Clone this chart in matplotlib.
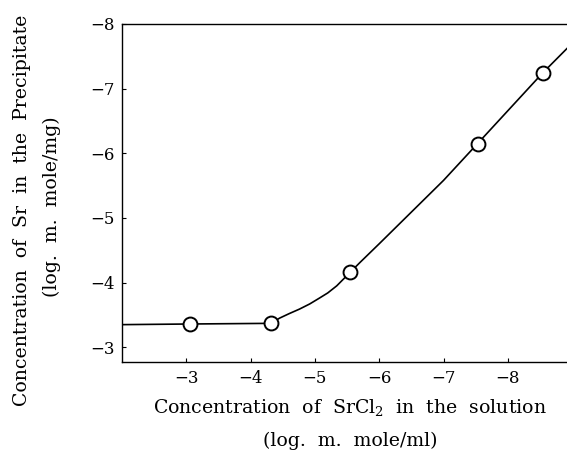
import numpy as np
import matplotlib
matplotlib.use('Agg')
import matplotlib.pyplot as plt

# measured points (log conc. in solution, log conc. in precipitate)
x_pts = [-3.06, -4.32, -5.54, -7.53, -8.54]
y_pts = [-3.36, -3.37, -4.16, -6.15, -7.24]

# fitted curve
x_curve = [-2.0, -3.06, -4.32, -4.45, -4.60, -4.76, -4.92, -5.07, -5.20, -5.34, -5.45,
           -5.54, -5.70, -6.0, -7.0, -7.53, -8.54, -8.92]
y_curve = [-3.35, -3.36, -3.37, -3.45, -3.52, -3.59, -3.67, -3.76, -3.84, -3.95, -4.06,
           -4.15, -4.31, -4.60, -5.58, -6.15, -7.24, -7.62]

x_ticks = [-3, -4, -5, -6, -7, -8]
y_ticks = [-3, -4, -5, -6, -7, -8]

plt.rcParams['font.family'] = ['DejaVu Serif']
plt.rcParams['mathtext.fontset'] = 'dejavuserif'

fig = plt.figure(figsize=(5.67, 4.51), dpi=100)
ax = fig.add_axes([0.215, 0.197, 0.785, 0.75])

ax.plot(x_curve, y_curve, color='black', lw=1.2, zorder=2)
ax.plot(x_pts, y_pts, 'o', ms=10, mfc='white', mec='black', mew=1.4, zorder=3)

ax.set_xlim(-2.0, -8.92)
ax.set_ylim(-2.77, -8.0)
ax.set_xticks(x_ticks)
ax.set_yticks(y_ticks)
ax.tick_params(direction='in', length=3, width=0.8, labelsize=12)
ax.tick_params(axis='x', pad=6)
ax.tick_params(axis='y', pad=5)

ax.spines['right'].set_visible(False)
for s in ['left', 'top', 'bottom']:
    ax.spines[s].set_linewidth(1.0)

fs = 13.6
fig.text(350 / 567, 1 - 407 / 451, 'Concentration  of  SrCl$_2$  in  the  solution',
         fontsize=fs, ha='center', va='center')
fig.text(350 / 567, 1 - 441 / 451, '(log.  m.  mole/ml)',
         fontsize=fs, ha='center', va='center')
fig.text(22 / 567, 1 - 210 / 451, 'Concentration  of  Sr  in  the  Precipitate',
         fontsize=fs, ha='center', va='center', rotation=90)
fig.text(52 / 567, 1 - 207 / 451, '(log.  m.  mole/mg)',
         fontsize=fs, ha='center', va='center', rotation=90)

fig.savefig('out.png', dpi=100)
